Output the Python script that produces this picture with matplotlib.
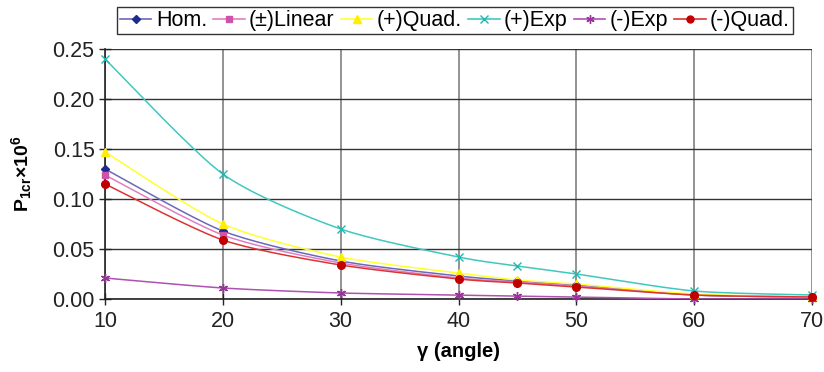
import numpy as np
import matplotlib
matplotlib.use("Agg")
import matplotlib.pyplot as plt

plt.rcParams['font.family'] = ['Liberation Sans', 'DejaVu Sans']
plt.rcParams['mathtext.fontset'] = 'custom'
plt.rcParams['mathtext.rm'] = 'Liberation Sans'
plt.rcParams['mathtext.bf'] = 'Liberation Sans:bold'

angles = [10, 20, 30, 40, 45, 50, 60, 70]
hom = [0.130, 0.068, 0.038, 0.023, 0.018, 0.014, 0.004, 0.002]
linear = [0.124, 0.064, 0.036, 0.021, 0.017, 0.013, 0.004, 0.002]
quad_p = [0.147, 0.075, 0.042, 0.026, 0.019, 0.015, 0.005, 0.002]
exp_p = [0.240, 0.125, 0.070, 0.042, 0.033, 0.025, 0.008, 0.004]
exp_m = [0.021, 0.011, 0.006, 0.004, 0.003, 0.002, 0.000, 0.000]
quad_m = [0.115, 0.059, 0.034, 0.020, 0.016, 0.012, 0.004, 0.002]

series = [
    ("Hom.", hom, "#6a6ab8", "#1f2a8f", "D", 4.5),
    ("(±)Linear", linear, "#e07fc0", "#cc55aa", "s", 5),
    ("(+)Quad.", quad_p, "#ffff33", "#ffee00", "^", 6),
    ("(+)Exp", exp_p, "#40c8c0", "#20b8b0", "x", 6),
    ("(-)Exp", exp_m, "#b050b0", "#993399", (6, 2, 0), 6.5),
    ("(-)Quad.", quad_m, "#dd3333", "#c00000", "o", 5.5),
]


def smooth(x, y, n=20, k=8.0):
    x = np.asarray(x, float)
    y = np.asarray(y, float)
    xs, ys = [], []
    for i in range(len(x) - 1):
        p0 = np.array([x[i - 1] if i > 0 else x[i], y[i - 1] if i > 0 else y[i]])
        p1 = np.array([x[i], y[i]])
        p2 = np.array([x[i + 1], y[i + 1]])
        p3 = np.array([x[i + 2] if i + 2 < len(x) else x[i + 1],
                       y[i + 2] if i + 2 < len(x) else y[i + 1]])
        t = np.linspace(0, 1, n)[:, None]
        c1 = p1 + (p2 - p0) / k
        c2 = p2 - (p3 - p1) / k
        pts = ((1 - t) ** 3) * p1 + 3 * ((1 - t) ** 2) * t * c1 + 3 * (1 - t) * t ** 2 * c2 + t ** 3 * p2
        xs.extend(pts[:, 0]); ys.extend(pts[:, 1])
    return np.array(xs), np.array(ys)


fig = plt.figure(figsize=(8.24, 3.72), dpi=100)
ax = fig.add_axes([105 / 824, 1 - 299 / 372, 707 / 824, 250 / 372])

handles = []
for name, vals, lc, mc, mk, ms in series:
    sx, sy = smooth(angles, vals)
    ax.plot(sx, sy, color=lc, lw=1.1, zorder=3)
    ax.plot(angles, vals, linestyle='none', marker=mk, color=mc, markersize=ms,
            markeredgecolor=mc, markeredgewidth=1.0, zorder=4, clip_on=False)
    h, = ax.plot([], [], color=lc, lw=1.2, marker=mk, markersize=ms - 0.5,
                 markerfacecolor=mc, markeredgecolor=mc, label=name)
    handles.append(h)

ax.set_xlim(10, 70)
ax.set_ylim(0, 0.25)
ax.set_xticks([10, 20, 30, 40, 50, 60, 70])
ax.set_yticks([0, 0.05, 0.10, 0.15, 0.20, 0.25])
ax.set_yticklabels(["0.00", "0.05", "0.10", "0.15", "0.20", "0.25"])
ax.tick_params(axis='both', labelsize=15.5, direction='inout', length=9, width=1, colors='#222222')
ax.tick_params(axis='x', pad=4)
ax.tick_params(axis='y', pad=3)
ax.grid(True, axis='x', color='#808080', lw=1.2)
ax.grid(True, axis='y', color='#333333', lw=1.0)
for s in ['top', 'right']:
    ax.spines[s].set_visible(False)
for s in ['left', 'bottom']:
    ax.spines[s].set_color('#222222')
    ax.spines[s].set_linewidth(1.2)
ax.set_axisbelow(True)

ax.set_xlabel("γ (angle)", fontsize=14.5, fontweight='bold', labelpad=7)
ax.set_ylabel(r"$\mathbf{P_{1cr}}$×$\mathbf{10^{6}}$", fontsize=14, fontweight='bold', labelpad=13)

leg = fig.legend(handles=handles, loc='upper left', bbox_to_anchor=(117 / 824, 1 - 7 / 372),
                 ncol=6, fontsize=15.5, frameon=True, fancybox=False, edgecolor='black',
                 handlelength=1.45, handletextpad=0.2, columnspacing=0.3, borderpad=0.15,
                 borderaxespad=0)
leg.get_frame().set_linewidth(1.0)

fig.savefig("out.png", dpi=100)
